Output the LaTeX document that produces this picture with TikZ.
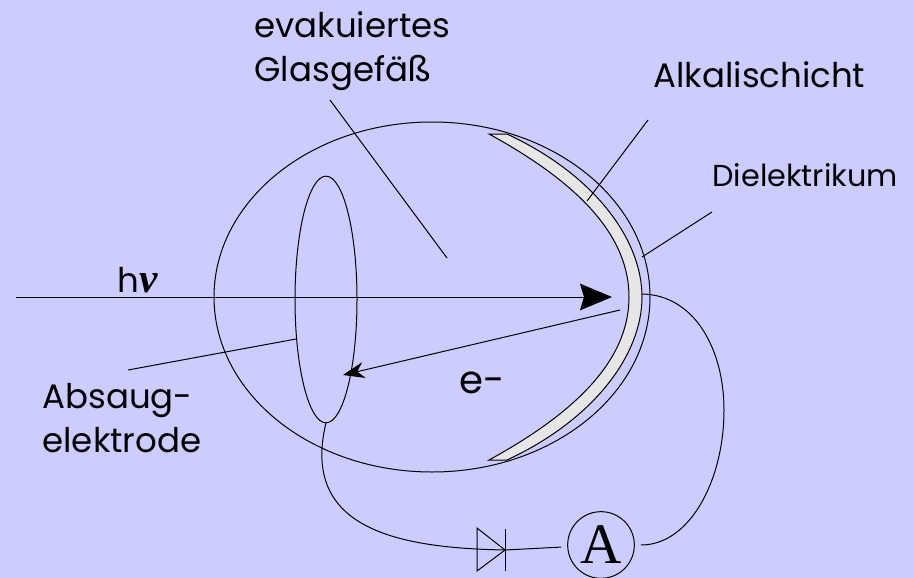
\documentclass[tikz,border=0pt]{standalone}
\usepackage{fontspec}
\setmainfont{Poppins}
\newfontfamily\serifA{Liberation Serif}
\usetikzlibrary{arrows.meta,shapes.geometric}
\definecolor{bgblue}{HTML}{CCCCFF}
\definecolor{layergray}{HTML}{E6E6E6}
\begin{document}
\begin{tikzpicture}[x=0.75pt, y=-0.75pt, line width=0.75pt,
lab/.style={anchor=base west, inner sep=0pt, align=left, font=\fontsize{25.5}{33}\selectfont},
smalllab/.style={anchor=base west, inner sep=0pt, font=\fontsize{22.7}{24}\selectfont},
ring/.style={draw, ellipse, inner sep=0pt, outer sep=0pt},
bigtip/.style={-{Stealth[length=24pt, width=20pt, inset=3pt]}},
smalltip/.style={-{Stealth[length=16pt, width=12pt, inset=5pt]}}]
\useasboundingbox (0,0) rectangle (914,578);
\fill[bgblue] (0,0) rectangle (914,578);
% vessel and electrode
\node[ring, minimum width=327pt, minimum height=262.5pt] (glas) at (432,297) {};
\node[ring, minimum width=46.5pt, minimum height=185pt] (elek) at (326,299.5) {};
% cathode layers
\coordinate (ktop) at (489,134);
\coordinate (kbot) at (489,460);
\coordinate (kin) at (629,297);
\coordinate (kout) at (642,297);
\draw[fill=layergray] (ktop) .. controls (586,187) and (629,240) .. (kin)
  .. controls (629,354) and (586,407) .. (kbot) -- (507,460)
  .. controls (595,419) and (642,354) .. (kout)
  .. controls (642,240) and (595,175) .. (507,134) -- cycle;
% labels
\node[lab] (lglas) at (254,81) {evakuiertes\\Glasgefäß};
\node[lab] (lalk) at (653,87) {Alkalischicht};
\node[smalllab] (ldie) at (712,186) {Dielektrikum};
\node[lab] (labs) at (42,452) {Absaug-\\elektrode};
\node[lab, font=\fontsize{29}{33}\selectfont] (le) at (459,393) {e-};
\node[lab] (lhv) at (117,292) {h{\serifA\bfseries\itshape\fontsize{31}{33}\selectfont ν}};
% leader lines
\coordinate (glasa) at (330,100);
\coordinate (glasb) at (447,258);
\coordinate (alka) at (648,120);
\coordinate (alkb) at (587,201);
\coordinate (diea) at (712,212);
\coordinate (dieb) at (642,257);
\coordinate (absa) at (128,370);
\coordinate (absb) at (296,339);
\draw (glasa)--(glasb); \draw (alka)--(alkb); \draw (diea)--(dieb); \draw (absa)--(absb);
% rays
\coordinate (hva) at (16,297);
\coordinate (hvb) at (612,297);
\coordinate (ea) at (620,310);
\coordinate (eb) at (343,375);
\draw[bigtip] (hva)--(hvb);
\draw[smalltip] (ea)--(eb);
% circuit
\node[draw, circle, inner sep=0pt, outer sep=5pt, minimum size=50pt, font=\serifA\fontsize{43}{43}\selectfont] (amp) at (601,545) {A};
\coordinate (dio) at (505,550);
\coordinate (dioa) at (477,528);
\coordinate (diob) at (477,571);
\coordinate (bara) at (505,529);
\coordinate (barb) at (505,571);
\draw (dioa)--(diob)--(dio)--cycle;
\draw (bara)--(barb);
\draw (elek.south) .. controls (300,530) and (400,548) .. (dio) -- (amp);
\draw (kout) ++(0,-3) .. controls (695,295) and (724,350) .. (724,410) .. controls (724,480) and (690,545) .. (amp);
\end{tikzpicture}
\end{document}
